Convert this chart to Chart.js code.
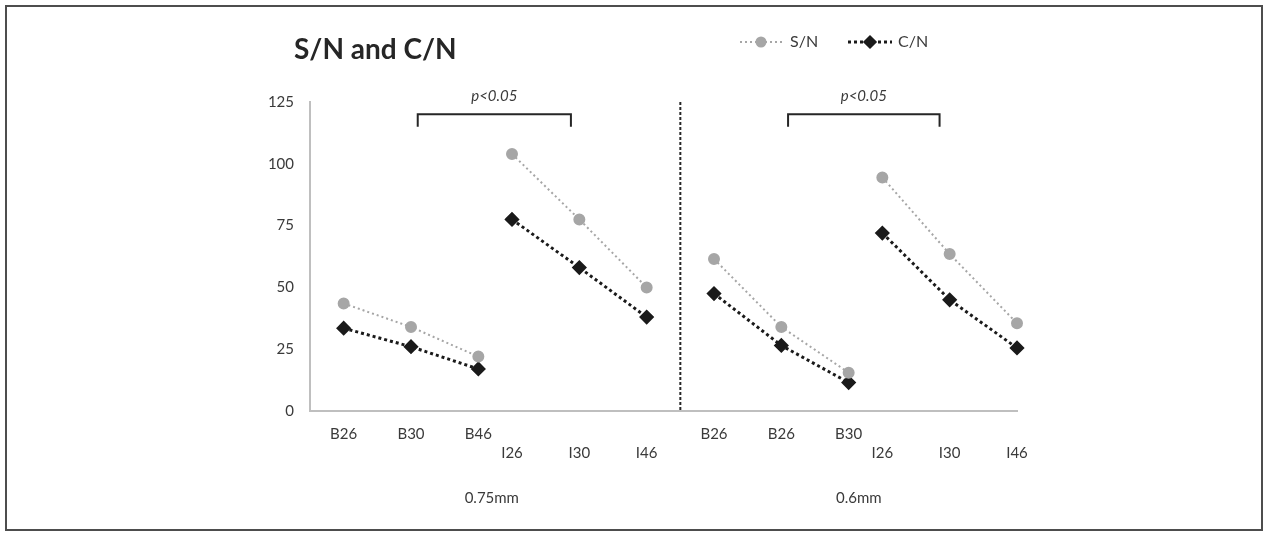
<!DOCTYPE html>
<html>
<head>
<meta charset="utf-8">
<script src="https://cdn.jsdelivr.net/npm/chart.js@4.4.1/dist/chart.umd.min.js"></script>
<style>
  html, body { margin: 0; padding: 0; background: #fff; }
  #wrap { width: 1268px; height: 536px; position: relative; }
</style>
</head>
<body>
<div id="wrap"><canvas id="snChart"></canvas></div>
<script>
/* ---- data ---- */
// category slots (blank slots keep the spacing of the original sheet)
const categories = ['', 'B26', '', 'B30', '', 'B46', 'I26', '', 'I30', '', 'I46', '',
                    'B26', '', 'B26', '', 'B30', 'I26', '', 'I30', '', 'I46'];
const snValues = [null, 43.5, null, 34, null, 22, 104, null, 77.5, null, 50, null,
                  61.5, null, 34, null, 15.5, 94.5, null, 63.5, null, 35.5];
const cnValues = [null, 33.5, null, 26, null, 17, 77.5, null, 58, null, 38, null,
                  47.5, null, 26.5, null, 11.5, 72, null, 45, null, 25.5];
const yTicks = [0, 25, 50, 75, 100, 125];
const groupLabels = ['0.75mm', '0.6mm'];
const groupCenters = [5.4, 16.3];
const dividerAt = 11;
const brackets = [
  { from: 3.2, to: 7.75, label: 'p<0.05' },
  { from: 14.2, to: 18.7, label: 'p<0.05' }
];
const bracketTop = 120, bracketBottom = 115, bracketText = 127.5;
const chartTitle = 'S/N and C/N';

const TXT = '#3a3a3a';
const SN_COLOR = '#a6a6a6';
const CN_COLOR = '#1a1a1a';

// 空きスロットを飛ばして、その位置が属する群(B/I)を探す
function groupOf(i, step) {
  while (i >= 0 && i < categories.length && categories[i] === '') i += step;
  return (categories[i] || '').charAt(0);
}
// 線はB群・I群の内側だけでつなぐ
function segColor(color) {
  return c => groupOf(c.p0DataIndex, -1) === groupOf(c.p1DataIndex, 1) ? color : 'rgba(0,0,0,0)';
}

Chart.defaults.font.family = 'Lato, "Open Sans", sans-serif';
Chart.defaults.color = TXT;

const decor = {
  id: 'decor',
  beforeDraw(chart) {
    const ctx = chart.ctx;
    ctx.save();
    ctx.fillStyle = '#fff';
    ctx.fillRect(0, 0, chart.width, chart.height);
    ctx.strokeStyle = '#4d4d4d';
    ctx.lineWidth = 2;
    ctx.strokeRect(6, 6, chart.width - 12, chart.height - 12);
    ctx.restore();
  },
  afterDraw(chart) {
    const { ctx } = chart;
    const x = chart.scales.x, y = chart.scales.y;
    ctx.save();

    // 区切りの破線
    const dx = x.getPixelForValue(dividerAt);
    ctx.beginPath();
    ctx.setLineDash([3, 2]);
    ctx.strokeStyle = '#262626';
    ctx.lineWidth = 2;
    ctx.moveTo(dx, y.getPixelForValue(125));
    ctx.lineTo(dx, y.getPixelForValue(0));
    ctx.stroke();
    ctx.setLineDash([]);

    // 有意差ブラケット
    brackets.forEach(b => {
      const x0 = x.getPixelForValue(b.from), x1 = x.getPixelForValue(b.to);
      const yt = y.getPixelForValue(bracketTop), yb = y.getPixelForValue(bracketBottom);
      ctx.beginPath();
      ctx.strokeStyle = '#262626';
      ctx.lineWidth = 2;
      ctx.moveTo(x0, yb);
      ctx.lineTo(x0, yt);
      ctx.lineTo(x1, yt);
      ctx.lineTo(x1, yb);
      ctx.stroke();
      ctx.font = 'italic 15px Lato';
      ctx.fillStyle = TXT;
      ctx.textAlign = 'center';
      ctx.textBaseline = 'middle';
      ctx.fillText(b.label, (x0 + x1) / 2, y.getPixelForValue(bracketText));
    });

    // グループ名
    ctx.font = '15px Lato';
    ctx.fillStyle = TXT;
    ctx.textAlign = 'center';
    ctx.textBaseline = 'middle';
    groupLabels.forEach((g, i) => {
      ctx.fillText(g, x.getPixelForValue(groupCenters[i]), 498);
    });

    // タイトル
    ctx.font = 'bold 28px Lato';
    ctx.fillStyle = '#262626';
    ctx.textAlign = 'left';
    ctx.fillText(chartTitle, 294, 50);

    // 凡例
    const items = [{ ds: 0, x0: 740, x1: 782, tx: 790, r: 4.5 }, { ds: 1, x0: 848, x1: 892, tx: 898, r: 5 }];
    items.forEach(it => {
      const ds = chart.data.datasets[it.ds];
      ctx.beginPath();
      ctx.setLineDash(ds.borderDash);
      ctx.strokeStyle = ds.borderColor;
      ctx.lineWidth = ds.borderWidth;
      ctx.moveTo(it.x0, 42);
      ctx.lineTo(it.x1, 42);
      ctx.stroke();
      ctx.setLineDash([]);
      ctx.fillStyle = ds.pointBackgroundColor;
      ctx.strokeStyle = ds.pointBorderColor;
      Chart.helpers.drawPoint(ctx, {
        pointStyle: ds.pointStyle, radius: it.r, rotation: 0, borderWidth: 1
      }, (it.x0 + it.x1) / 2, 42);
      ctx.font = '16px Lato';
      ctx.fillStyle = TXT;
      ctx.textAlign = 'left';
      ctx.fillText(ds.label, it.tx, 42);
    });

    ctx.restore();
  }
};

new Chart(document.getElementById('snChart'), {
  type: 'line',
  data: {
    labels: categories,
    datasets: [
      {
        label: 'S/N',
        data: snValues,
        borderColor: SN_COLOR,
        borderWidth: 2,
        borderDash: [2, 3],
        pointStyle: 'circle',
        pointRadius: 5,
        pointBackgroundColor: SN_COLOR,
        pointBorderColor: SN_COLOR,
        spanGaps: true,
        segment: { borderColor: segColor(SN_COLOR) }
      },
      {
        label: 'C/N',
        data: cnValues,
        borderColor: CN_COLOR,
        borderWidth: 3,
        borderDash: [3, 3],
        pointStyle: 'rectRot',
        pointRadius: 5.5,
        pointBackgroundColor: CN_COLOR,
        pointBorderColor: CN_COLOR,
        spanGaps: true,
        segment: { borderColor: segColor(CN_COLOR) }
      }
    ]
  },
  options: {
    responsive: true,
    maintainAspectRatio: false,
    animation: false,
    layout: { padding: { left: 0, top: 102, right: 251, bottom: 0 } },
    plugins: {
      legend: { display: false },
      tooltip: { enabled: false }
    },
    scales: {
      x: {
        type: 'category',
        offset: false,
        grid: { display: false, drawTicks: false },
        border: { display: true, color: '#bfbfbf', width: 2 },
        afterFit(s) { s.height = 125; },
        ticks: {
          autoSkip: false,
          maxRotation: 0,
          padding: 14,
          font: { size: 15, lineHeight: '19px' },
          color: TXT,
          // I群のラベルは2段目に
          callback(v, i) {
            const l = categories[i];
            return l.charAt(0) === 'I' ? ['', l] : l;
          }
        }
      },
      y: {
        min: 0,
        max: 125,
        afterFit(s) { s.width = 310; },
        afterBuildTicks(s) { s.ticks = yTicks.map(v => ({ value: v })); },
        grid: { display: false, drawTicks: false },
        border: { display: true, color: '#bfbfbf', width: 2 },
        ticks: { padding: 16, font: { size: 15 }, color: TXT }
      }
    }
  },
  plugins: [decor]
});
</script>
</body>
</html>
